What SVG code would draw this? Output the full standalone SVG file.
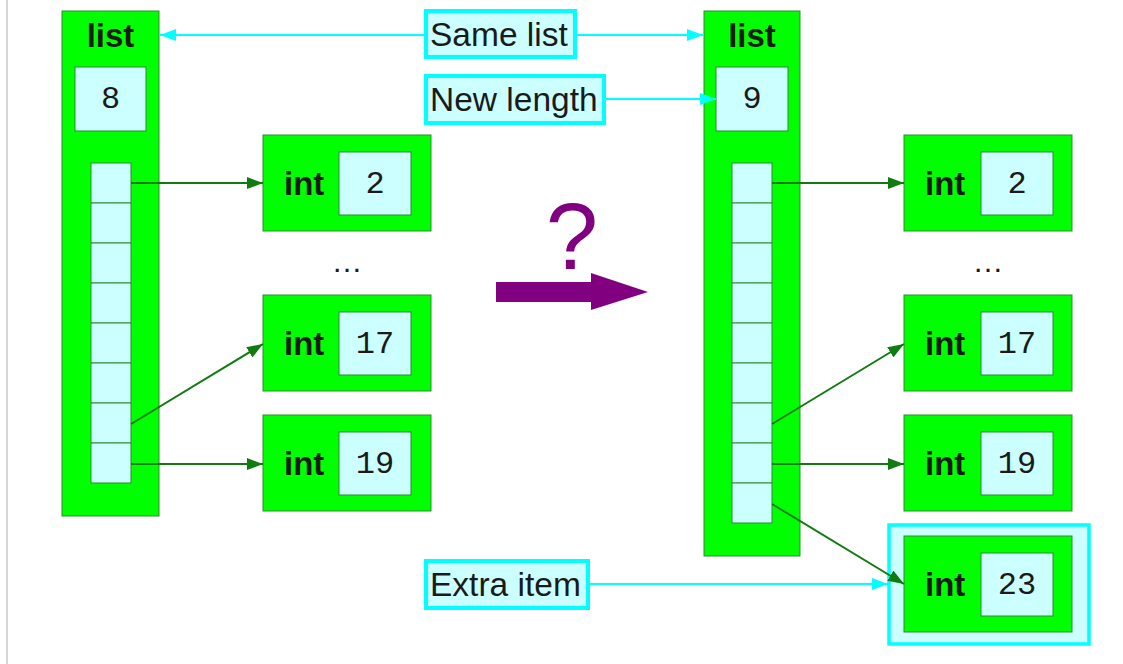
<svg xmlns="http://www.w3.org/2000/svg" width="1123" height="664" viewBox="0 0 1123 664">
<style>
.outer{fill:#00ff00;stroke:#2e8b2e;stroke-width:1}
.cell{fill:#ccffff;stroke:#2e8b2e;stroke-width:1}
.lbl{fill:#ccffff;stroke:#00ffff;stroke-width:4}
.bold{font-family:"Liberation Sans",Arial,sans-serif;font-weight:bold;font-size:33px;fill:#1a1a1a}
.sans{font-family:"Liberation Sans",Arial,sans-serif;font-size:33.5px;fill:#1a1a1a}
.mono{font-family:"Liberation Mono","Courier New",monospace;font-size:32px;fill:#1a1a1a}
.dots{font-family:"Liberation Sans",Arial,sans-serif;font-size:31px;fill:#1a1a1a}
.g{stroke:#107c10;stroke-width:2;fill:none;marker-end:url(#ga)}
.c{stroke:#00ffff;stroke-width:2;fill:none}
</style>
<defs>
<marker id="ga" viewBox="0 0 16 12" refX="16" refY="6" markerWidth="16" markerHeight="12" markerUnits="userSpaceOnUse" orient="auto"><path d="M0,0 L16,6 L0,12 z" fill="#107c10"/></marker>
<marker id="ca" viewBox="0 0 16 12" refX="16" refY="6" markerWidth="16" markerHeight="12" markerUnits="userSpaceOnUse" orient="auto"><path d="M0,0 L16,6 L0,12 z" fill="#00ffff"/></marker>
</defs>
<rect width="1123" height="664" fill="#ffffff"/>
<line x1="7" y1="0" x2="7" y2="664" stroke="#c8c8c8" stroke-width="1.5"/>

<g id="list-left">
<rect class="outer" x="62" y="11" width="97" height="505"/>
<text class="bold" x="110.5" y="47" text-anchor="middle">list</text>
<rect class="cell" x="75" y="67" width="71" height="64"/>
<text class="mono" x="110.5" y="108" text-anchor="middle">8</text>
<rect class="cell" x="91" y="163" width="40" height="40"/>
<rect class="cell" x="91" y="203" width="40" height="40"/>
<rect class="cell" x="91" y="243" width="40" height="40"/>
<rect class="cell" x="91" y="283" width="40" height="40"/>
<rect class="cell" x="91" y="323" width="40" height="40"/>
<rect class="cell" x="91" y="363" width="40" height="40"/>
<rect class="cell" x="91" y="403" width="40" height="40"/>
<rect class="cell" x="91" y="443" width="40" height="40"/>
</g>

<g id="int2-left">
<rect class="outer" x="263" y="135" width="168" height="96"/>
<text class="bold" x="284" y="195">int</text>
<rect class="cell" x="339" y="152" width="72" height="63"/>
<text class="mono" x="375" y="193" text-anchor="middle">2</text>
</g>
<text class="dots" x="347" y="272" text-anchor="middle">…</text>
<g id="int17-left">
<rect class="outer" x="263" y="295" width="168" height="96"/>
<text class="bold" x="284" y="355">int</text>
<rect class="cell" x="339" y="312" width="72" height="63"/>
<text class="mono" x="375" y="353" text-anchor="middle">17</text>
</g>
<g id="int19-left">
<rect class="outer" x="263" y="415" width="168" height="96"/>
<text class="bold" x="284" y="475">int</text>
<rect class="cell" x="339" y="432" width="72" height="63"/>
<text class="mono" x="375" y="473" text-anchor="middle">19</text>
</g>

<g id="transition">
<text x="572" y="269" text-anchor="middle" style="font-family:'Liberation Sans',Arial,sans-serif;font-size:94px;fill:#800080">?</text>
<path d="M496,282 L591,282 L591,273 L648,292 L591,310 L591,302 L496,302 z" fill="#800080"/>
</g>

<g id="list-right">
<rect class="outer" x="704" y="11" width="96" height="545"/>
<text class="bold" x="752" y="47" text-anchor="middle">list</text>
<rect class="cell" x="716" y="67" width="72" height="64"/>
<text class="mono" x="752" y="108" text-anchor="middle">9</text>
<rect class="cell" x="732" y="163" width="40" height="40"/>
<rect class="cell" x="732" y="203" width="40" height="40"/>
<rect class="cell" x="732" y="243" width="40" height="40"/>
<rect class="cell" x="732" y="283" width="40" height="40"/>
<rect class="cell" x="732" y="323" width="40" height="40"/>
<rect class="cell" x="732" y="363" width="40" height="40"/>
<rect class="cell" x="732" y="403" width="40" height="40"/>
<rect class="cell" x="732" y="443" width="40" height="40"/>
<rect class="cell" x="732" y="483" width="40" height="40"/>
</g>

<g id="int2-right">
<rect class="outer" x="904" y="135" width="168" height="96"/>
<text class="bold" x="925" y="195">int</text>
<rect class="cell" x="981" y="152" width="72" height="63"/>
<text class="mono" x="1017" y="193" text-anchor="middle">2</text>
</g>
<text class="dots" x="988" y="272" text-anchor="middle">…</text>
<g id="int17-right">
<rect class="outer" x="904" y="295" width="168" height="96"/>
<text class="bold" x="925" y="355">int</text>
<rect class="cell" x="981" y="312" width="72" height="63"/>
<text class="mono" x="1017" y="353" text-anchor="middle">17</text>
</g>
<g id="int19-right">
<rect class="outer" x="904" y="415" width="168" height="96"/>
<text class="bold" x="925" y="475">int</text>
<rect class="cell" x="981" y="432" width="72" height="63"/>
<text class="mono" x="1017" y="473" text-anchor="middle">19</text>
</g>
<g id="int23-right">
<rect x="889" y="525" width="200" height="119" fill="#ccffff" stroke="#00ffff" stroke-width="3.5"/>
<rect class="outer" x="904" y="536" width="168" height="96"/>
<text class="bold" x="925" y="596">int</text>
<rect class="cell" x="981" y="553" width="72" height="63"/>
<text class="mono" x="1017" y="594" text-anchor="middle">23</text>
</g>

<g id="label-same">
<rect class="lbl" x="426" y="11" width="149" height="46"/>
<text class="sans" x="430" y="46">Same list</text>
</g>
<g id="label-newlength">
<rect class="lbl" x="426" y="76" width="178" height="47"/>
<text class="sans" x="430" y="111">New length</text>
</g>
<g id="label-extra">
<rect class="lbl" x="426" y="561" width="162" height="47"/>
<text class="sans" x="430" y="596">Extra item</text>
</g>

<g id="connectors">
<line class="c" x1="424" y1="35" x2="160" y2="35" marker-end="url(#ca)"/>
<line class="c" x1="577" y1="35" x2="703" y2="35" marker-end="url(#ca)"/>
<line class="c" x1="606" y1="99" x2="716" y2="99" marker-end="url(#ca)"/>
<line class="c" x1="590" y1="584" x2="888" y2="584" marker-end="url(#ca)"/>
<line class="g" x1="131" y1="183" x2="263" y2="183"/>
<line class="g" x1="131" y1="424" x2="263" y2="344"/>
<line class="g" x1="131" y1="464" x2="263" y2="464"/>
<line class="g" x1="772" y1="183" x2="904" y2="183"/>
<line class="g" x1="772" y1="424" x2="904" y2="344"/>
<line class="g" x1="772" y1="464" x2="904" y2="464"/>
<line class="g" x1="772" y1="504" x2="904" y2="584"/>
</g>
</svg>
